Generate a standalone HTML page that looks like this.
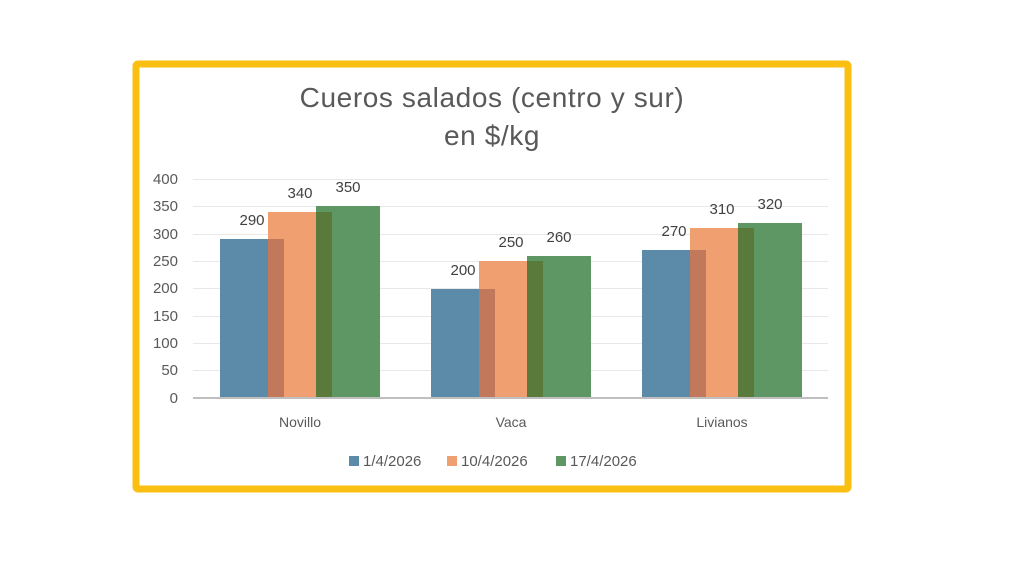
<!DOCTYPE html>
<html><head><meta charset="utf-8"><style>
html,body{margin:0;padding:0;background:#fff;}
svg{display:block;font-family:"Liberation Sans",sans-serif;}
</style></head><body>
<svg width="1024" height="576" viewBox="0 0 1024 576">
<rect x="0" y="0" width="1024" height="576" fill="#fff"/>
<rect x="136" y="64" width="712" height="425" fill="#fff" stroke="#fbbf12" stroke-width="7" rx="2"/>
<text x="492" y="107" text-anchor="middle" font-size="28" letter-spacing="0.6" fill="#595959">Cueros salados (centro y sur)</text>
<text x="492" y="145" text-anchor="middle" font-size="28" letter-spacing="0.6" fill="#595959">en $/kg</text>
<g stroke="#e8e8e8" stroke-width="1">
<line x1="193" x2="828" y1="179.5" y2="179.5"/><line x1="193" x2="828" y1="206.5" y2="206.5"/>
<line x1="193" x2="828" y1="234.5" y2="234.5"/><line x1="193" x2="828" y1="261.5" y2="261.5"/>
<line x1="193" x2="828" y1="288.5" y2="288.5"/><line x1="193" x2="828" y1="316.5" y2="316.5"/>
<line x1="193" x2="828" y1="343.5" y2="343.5"/><line x1="193" x2="828" y1="370.5" y2="370.5"/>
</g>
<g font-size="15" fill="#595959" text-anchor="end">
<text x="178" y="184">400</text><text x="178" y="211">350</text><text x="178" y="239">300</text>
<text x="178" y="266">250</text><text x="178" y="293">200</text><text x="178" y="321">150</text>
<text x="178" y="348">100</text><text x="178" y="375">50</text><text x="178" y="403">0</text>
</g>
<rect x="220" y="239" width="48" height="159" fill="#5b8ba8"/>
<rect x="268" y="239" width="16" height="159" fill="#c2785a"/>
<rect x="268" y="212" width="16" height="27" fill="#f0a070"/>
<rect x="284" y="212" width="32" height="186" fill="#f0a070"/>
<rect x="316" y="212" width="16" height="186" fill="#5a7a3c"/>
<rect x="316" y="206" width="16" height="6" fill="#5e9664"/>
<rect x="332" y="206" width="48" height="192" fill="#5e9664"/>
<rect x="431" y="289" width="48" height="109" fill="#5b8ba8"/>
<rect x="479" y="289" width="16" height="109" fill="#c2785a"/>
<rect x="479" y="261" width="16" height="28" fill="#f0a070"/>
<rect x="495" y="261" width="32" height="137" fill="#f0a070"/>
<rect x="527" y="261" width="16" height="137" fill="#5a7a3c"/>
<rect x="527" y="256" width="16" height="5" fill="#5e9664"/>
<rect x="543" y="256" width="48" height="142" fill="#5e9664"/>
<rect x="642" y="250" width="48" height="148" fill="#5b8ba8"/>
<rect x="690" y="250" width="16" height="148" fill="#c2785a"/>
<rect x="690" y="228" width="16" height="22" fill="#f0a070"/>
<rect x="706" y="228" width="32" height="170" fill="#f0a070"/>
<rect x="738" y="228" width="16" height="170" fill="#5a7a3c"/>
<rect x="738" y="223" width="16" height="5" fill="#5e9664"/>
<rect x="754" y="223" width="48" height="175" fill="#5e9664"/>
<line x1="193" x2="828" y1="398" y2="398" stroke="#bfbfbf" stroke-width="2"/>
<g font-size="15" fill="#404040" text-anchor="middle">
<text x="252" y="225">290</text><text x="300" y="198">340</text><text x="348" y="192">350</text>
<text x="463" y="275">200</text><text x="511" y="247">250</text><text x="559" y="242">260</text>
<text x="674" y="236">270</text><text x="722" y="214">310</text><text x="770" y="209">320</text>
</g>
<g font-size="14" fill="#595959" text-anchor="middle">
<text x="300" y="427">Novillo</text><text x="511" y="427">Vaca</text><text x="722" y="427">Livianos</text>
</g>
<g font-size="15" fill="#595959">
<rect x="349" y="456" width="10" height="10" fill="#5b8ba8"/><text x="363" y="466">1/4/2026</text>
<rect x="447" y="456" width="10" height="10" fill="#f0a070"/><text x="461" y="466">10/4/2026</text>
<rect x="556" y="456" width="10" height="10" fill="#5e9664"/><text x="570" y="466">17/4/2026</text>
</g>
</svg>
</body></html>
